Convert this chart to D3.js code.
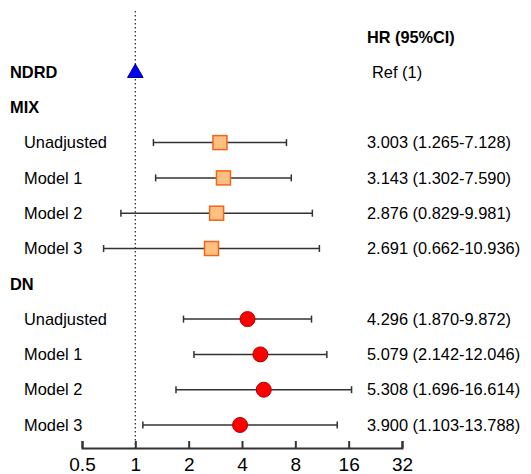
<!DOCTYPE html>
<html>
<head>
<meta charset="utf-8">
<script src="https://d3js.org/d3.v7.min.js"></script>
<style>
  body { margin: 0; background: #fff; }
  text { font-family: "Liberation Sans", Arial, sans-serif; fill: #000; }
  .axis path, .axis line { stroke: #333; stroke-width: 2; }
  .axis text { font-size: 19px; fill: #000; }
</style>
</head>
<body>
<script>
// rows, top to bottom
var rowLabels = ["NDRD", "MIX", "Unadjusted", "Model 1", "Model 2", "Model 3",
                 "DN", "Unadjusted", "Model 1", "Model 2", "Model 3"];
var rowHeader = [true, true, false, false, false, false, true, false, false, false, false];
var groups    = ["ref", null, "mix", "mix", "mix", "mix", null, "dn", "dn", "dn", "dn"];
var hr        = [1, null, 3.003, 3.143, 2.876, 2.691, null, 4.296, 5.079, 5.308, 3.900];
var lower     = [null, null, 1.265, 1.302, 0.829, 0.662, null, 1.870, 2.142, 1.696, 1.103];
var upper     = [null, null, 7.128, 7.590, 9.981, 10.936, null, 9.872, 12.046, 16.614, 13.788];
var hrText    = ["Ref (1)", "", "3.003 (1.265-7.128)", "3.143 (1.302-7.590)",
                 "2.876 (0.829-9.981)", "2.691 (0.662-10.936)", "",
                 "4.296 (1.870-9.872)", "5.079 (2.142-12.046)",
                 "5.308 (1.696-16.614)", "3.900 (1.103-13.788)"];
var xTicks = [0.5, 1, 2, 4, 8, 16, 32];

var width = 531, height = 474;

var svg = d3.select("body").append("svg")
    .attr("width", width)
    .attr("height", height);

var x = d3.scaleLog().base(2).domain([0.5, 32]).range([82, 402]);
var y = d3.scaleLinear().domain([0, rowLabels.length - 1]).range([72, 425]);
var axisY = 448;

// reference line at HR = 1
svg.append("line")
    .attr("x1", x(1)).attr("x2", x(1))
    .attr("y1", 11).attr("y2", axisY)
    .attr("stroke", "#333")
    .attr("stroke-width", 1.3)
    .attr("stroke-dasharray", "1.5,2.5");

// x axis
svg.append("g")
    .attr("class", "axis")
    .attr("transform", "translate(0," + axisY + ")")
    .call(d3.axisTop(x).tickValues(xTicks).tickSize(7).tickSizeOuter(7)
        .tickFormat(function(d){ return d; }))
    .call(function(g){
        g.selectAll("text").attr("y", 10).attr("dy", "0.71em");
    });

// header
svg.append("text")
    .attr("x", 367).attr("y", 37).attr("dy", "0.35em")
    .style("font-size", "16.3px").style("font-weight", "bold")
    .text("HR (95%CI)");

// row labels
svg.selectAll(".rowlabel")
    .data(rowLabels)
    .enter().append("text")
    .attr("class", "rowlabel")
    .attr("x", function(d, i){ return rowHeader[i] ? 10 : 24; })
    .attr("y", function(d, i){ return y(i); })
    .attr("dy", "0.35em")
    .style("font-size", "16.4px")
    .style("font-weight", function(d, i){ return rowHeader[i] ? "bold" : "normal"; })
    .text(function(d){ return d; });

// HR text
svg.selectAll(".hrtext")
    .data(hrText)
    .enter().append("text")
    .attr("class", "hrtext")
    .attr("x", function(d, i){ return i === 0 ? 372 : 367; })
    .attr("y", function(d, i){ return y(i); })
    .attr("dy", "0.35em")
    .style("font-size", "16.4px")
    .text(function(d){ return d; });

// error bars
var idx = d3.range(rowLabels.length).filter(function(i){ return lower[i] != null; });
var bars = svg.append("g");
idx.forEach(function(i){
    var yy = y(i);
    bars.append("line")
        .attr("x1", x(lower[i])).attr("x2", x(upper[i]))
        .attr("y1", yy).attr("y2", yy)
        .attr("stroke", "#333").attr("stroke-width", 1.5);
    [lower[i], upper[i]].forEach(function(v){
        bars.append("line")
            .attr("x1", x(v)).attr("x2", x(v))
            .attr("y1", yy - 3.5).attr("y2", yy + 3.5)
            .attr("stroke", "#333").attr("stroke-width", 1.5);
    });
});

// markers
idx.forEach(function(i){
    if (groups[i] === "mix") {
        svg.append("rect")
            .attr("x", x(hr[i]) - 7).attr("y", y(i) - 7)
            .attr("width", 14).attr("height", 14)
            .attr("fill", "#FFBF80")
            .attr("stroke", "#F0661E").attr("stroke-width", 1.5);
    } else if (groups[i] === "dn") {
        svg.append("circle")
            .attr("cx", x(hr[i])).attr("cy", y(i))
            .attr("r", 7.5)
            .attr("fill", "#FF0000")
            .attr("stroke", "#B00000").attr("stroke-width", 1);
    }
});

// reference triangle
svg.append("path")
    .attr("d", d3.symbol().type(d3.symbolTriangle).size(105))
    .attr("transform", "translate(" + x(hr[0]) + "," + (y(0) + 1) + ")")
    .attr("fill", "#0000FF")
    .attr("stroke", "#000080").attr("stroke-width", 1);
</script>
</body>
</html>
